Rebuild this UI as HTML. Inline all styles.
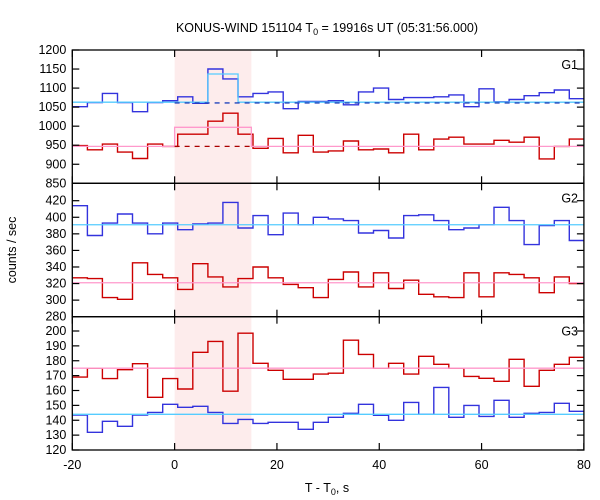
<!DOCTYPE html>
<html><head><meta charset="utf-8"><style>
body{margin:0;background:#fff;}
svg{display:block;font-family:"Liberation Sans",sans-serif;}
</style></head><body>
<svg id="chart" width="600" height="500"></svg>
<script>
const binStart = -20;
const binWidth = 2.944;
const g1Blue = [1051,1062,1086,1062,1038,1062,1067,1077,1060,1150,1124,1077,1086,1090,1046,1065,1065,1067,1056,1090,1100,1070,1075,1075,1077,1082,1051,1098,1064,1070,1080,1088,1095,1072];
const g1Red = [949,938,953,932,915,953,947,979,979,1013,1034,979,942,968,930,976,932,935,961,938,940,930,979,938,966,971,953,953,963,958,971,914,947,966];
const g2Blue = [414,378,393,404,393,380,393,385,392,393,418,387,402,379,405,391,400,398,396,381,384,375,402,403,396,385,387,391,412,396,367,390,396,372];
const g2Red = [327,326,303,301,345,331,327,313,344,328,316,326,340,327,319,315,303,325,334,316,333,314,324,307,304,303,333,304,333,331,327,309,328,320];
const g3Red = [169,175,168,174,178,155.4,168,161,185.7,193,159.5,198.5,178.3,173.6,167.5,167.5,171,171.6,193.8,184.3,175,178.3,171,183,177.6,175,169.5,168.2,166.2,181,162.8,173.6,177.6,182.3];
const g3Blue = [143.5,131.9,139.3,135.9,143.5,145.3,150.7,148.7,149.4,145.3,137.9,140.6,137.9,138.6,138.6,133.9,138.6,142,144.7,150.7,143.3,140,152,144,162.1,142,150,142.6,153.4,142,144.7,145.3,151.4,146];
const g1BlueBg = 1063, g1BlueBump = 1137, g1BlueBumpT = [6.5, 12.4];
const g1RedBg = 947, g1RedBump = 997, g1RedBumpT = [0, 15];
const g2BlueBg = 391, g2RedBg = 321;
const g3BlueBg = 144, g3RedBg = 175;
const xTicks = [-20,0,20,40,60,80];
const g1Ticks = [850,900,950,1000,1050,1100,1150,1200];
const g2Ticks = [280,300,320,340,360,380,400,420];
const g3Ticks = [120,130,140,150,160,170,180,190,200];
const shadeT = [0, 15];

const NS = "http://www.w3.org/2000/svg";
const svg = document.getElementById('chart');
const X0 = 72.3, X1 = 583.9;
function xs(t){ return X0 + (t + 20) / 100 * (X1 - X0); }
function mk(tag, attrs, parent){
  const e = document.createElementNS(NS, tag);
  for (const k in attrs) e.setAttribute(k, attrs[k]);
  (parent || svg).appendChild(e);
  return e;
}
const panels = [
  {name:'g1', top:50, bottom:183.3, vmin:850, vmax:1200, ymaxPix:50, ticks:g1Ticks, label:'G1'},
  {name:'g2', top:183.3, bottom:316.7, vmin:280, vmax:420, ymaxPix:200.7, ticks:g2Ticks, label:'G2'},
  {name:'g3', top:316.7, bottom:450, vmin:120, vmax:200, ymaxPix:331, ticks:g3Ticks, label:'G3'}
];
panels.forEach(p => { p.ys = v => p.bottom - (v - p.vmin) / (p.vmax - p.vmin) * (p.bottom - p.ymaxPix); });

const sh = mk('rect', {x:xs(shadeT[0]), y:50, width:xs(shadeT[1])-xs(shadeT[0]), height:400, fill:'#fdecec'});



function stepPath(vals, ys){
  let d = '';
  vals.forEach((v,i) => {
    const xa = xs(binStart + i*binWidth), xb = xs(binStart + (i+1)*binWidth);
    d += (i===0 ? 'M' : 'L') + xa.toFixed(1) + ',' + ys(v).toFixed(1) + 'L' + xb.toFixed(1) + ',' + ys(v).toFixed(1);
  });
  return d;
}
function hline(p, v, t0, t1, color, name, dash){
  const l = mk('line', {x1:xs(t0), x2:xs(t1), y1:p.ys(v), y2:p.ys(v), stroke:color, 'stroke-width':1.3});
  if (dash) l.setAttribute('stroke-dasharray', dash);
  
  
}
function series(p, vals, color, name){
  const e = mk('path', {d:stepPath(vals, p.ys), fill:'none', stroke:color, 'stroke-width':1.4});
  
  
}
const P1 = panels[0], P2 = panels[1], P3 = panels[2];
series(P1, g1Blue, '#3333dd', 'g1-blue-counts');
series(P1, g1Red, '#cc0000', 'g1-red-counts');
{
  const ys = P1.ys;
  const d = 'M'+xs(-20)+','+ys(g1BlueBg)+'L'+xs(g1BlueBumpT[0])+','+ys(g1BlueBg)+'L'+xs(g1BlueBumpT[0])+','+ys(g1BlueBump)+'L'+xs(g1BlueBumpT[1])+','+ys(g1BlueBump)+'L'+xs(g1BlueBumpT[1])+','+ys(g1BlueBg)+'L'+xs(80)+','+ys(g1BlueBg);
  const e = mk('path', {d:d, fill:'none', stroke:'#55ccff', 'stroke-width':1.3});
  
  
  const d2 = 'M'+xs(-20)+','+ys(g1RedBg)+'L'+xs(g1RedBumpT[0])+','+ys(g1RedBg)+'L'+xs(g1RedBumpT[0])+','+ys(g1RedBump)+'L'+xs(g1RedBumpT[1])+','+ys(g1RedBump)+'L'+xs(g1RedBumpT[1])+','+ys(g1RedBg)+'L'+xs(80)+','+ys(g1RedBg);
  const e2 = mk('path', {d:d2, fill:'none', stroke:'#ff99cc', 'stroke-width':1.3});
  
  
}
hline(P1, g1BlueBg - 2, 0, 80, '#2244bb', 'g1-blue-dashed-bg', '5,5');
hline(P1, g1RedBg, 0, 15, '#aa0000', 'g1-red-dashed-bg', '5,5');
series(P2, g2Blue, '#3333dd', 'g2-blue-counts');
series(P2, g2Red, '#cc0000', 'g2-red-counts');
hline(P2, g2BlueBg, -20, 80, '#55ccff', 'g2-blue-model');
hline(P2, g2RedBg, -20, 80, '#ff99cc', 'g2-red-model');
series(P3, g3Red, '#cc0000', 'g3-red-counts');
series(P3, g3Blue, '#3333dd', 'g3-blue-counts');
hline(P3, g3RedBg, -20, 80, '#ff99cc', 'g3-red-model');
hline(P3, g3BlueBg, -20, 80, '#55ccff', 'g3-blue-model');

panels.forEach(p => {
  const fr = mk('rect', {x:X0, y:p.top, width:X1-X0, height:p.bottom-p.top, fill:'none', stroke:'#000', 'stroke-width':1.3});
  
  
  p.ticks.forEach(v => {
    const y = p.ys(v);
    mk('line', {x1:X0, x2:X0+7, y1:y, y2:y, stroke:'#000', 'stroke-width':1.2});
    mk('line', {x1:X1-7, x2:X1, y1:y, y2:y, stroke:'#000', 'stroke-width':1.2});
    const t = mk('text', {x:X0-6, y:y+4, 'text-anchor':'end', 'font-size':12.5, fill:'#000'});
    t.textContent = v;
    
    
  });
  xTicks.forEach(v => {
    const x = xs(v);
    mk('line', {x1:x, x2:x, y1:p.top, y2:p.top+7, stroke:'#000', 'stroke-width':1.2});
    mk('line', {x1:x, x2:x, y1:p.bottom-7, y2:p.bottom, stroke:'#000', 'stroke-width':1.2});
  });
  const lb = mk('text', {x:578, y:p.top+19, 'text-anchor':'end', 'font-size':12.5, fill:'#000'});
  lb.textContent = p.label;
  
  
});
xTicks.forEach(v => {
  const t = mk('text', {x:xs(v), y:469, 'text-anchor':'middle', 'font-size':12.5, fill:'#000'});
  t.textContent = v;
  
  
});
</script>
<svg width="600" height="500" style="position:absolute;left:0;top:0;font-family:'Liberation Sans',sans-serif;">
  <text x="327" y="32" text-anchor="middle" font-size="12.5">KONUS-WIND 151104 T<tspan font-size="9" dy="3">0</tspan><tspan dy="-3"> = 19916s UT (05:31:56.000)</tspan></text>
  <text x="327" y="492" text-anchor="middle" font-size="12.5">T - T<tspan font-size="9" dy="3">0</tspan><tspan dy="-3">, s</tspan></text>
  <text x="16" y="250" text-anchor="middle" font-size="12.5" transform="rotate(-90 16 250)">counts / sec</text>
</svg>
</body></html>
